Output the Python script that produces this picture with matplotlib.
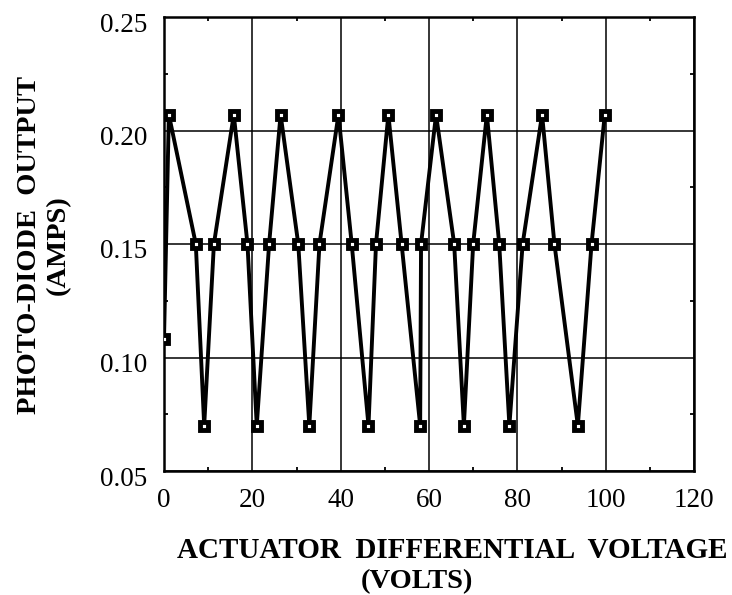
import numpy as np
import matplotlib
matplotlib.use("Agg")
import matplotlib.pyplot as plt
from matplotlib.ticker import MultipleLocator
from matplotlib.transforms import ScaledTranslation

# Values
voltage = [0.0, 1.1, 7.2, 9.1, 11.3, 15.8, 18.9, 21.0, 23.8, 26.4,
           30.4, 32.9, 35.2, 39.5, 42.5, 46.3, 48.0, 50.8, 53.8, 58.0,
           58.2, 61.6, 65.7, 67.9, 70.0, 73.1, 75.9, 78.2, 81.2, 85.6,
           88.4, 93.7, 96.8, 99.8]
output = [0.108, 0.207, 0.150, 0.070, 0.150, 0.207, 0.150, 0.070, 0.150, 0.207,
          0.150, 0.070, 0.150, 0.207, 0.150, 0.070, 0.150, 0.207, 0.150, 0.070,
          0.150, 0.207, 0.150, 0.070, 0.150, 0.207, 0.150, 0.070, 0.150, 0.207,
          0.150, 0.070, 0.150, 0.207]

x_ticks = [0, 20, 40, 60, 80, 100, 120]
y_ticks = [0.05, 0.10, 0.15, 0.20, 0.25]

serif = "Liberation Serif"

fig = plt.figure(figsize=(7.32, 5.95), dpi=100)
ax = fig.add_axes([164 / 732, 1 - 471 / 595, (694 - 164) / 732, (471 - 17) / 595])

ax.plot(voltage, output, color="black", lw=2.8, marker="s", ms=5.5,
        mfc="white", mec="black", mew=3.5, zorder=3)

ax.set_xlim(0, 120)
ax.set_ylim(0.05, 0.25)
ax.set_xticks(x_ticks)
ax.set_yticks(y_ticks)
ax.set_xticklabels([str(v) for v in x_ticks])
ax.set_yticklabels([f"{v:.2f}" for v in y_ticks])
ax.xaxis.set_minor_locator(MultipleLocator(10))
ax.yaxis.set_minor_locator(MultipleLocator(0.025))

# grid lines at major ticks, small inward minor ticks all round
ax.grid(True, which="major", color="black", lw=1.1)
ax.tick_params(which="major", length=0, pad=12, labelsize=19.5)
ax.tick_params(which="minor", direction="in", length=3, width=1.3,
               top=True, right=True)
for lab in ax.get_xticklabels() + ax.get_yticklabels():
    lab.set_fontfamily(serif)
offset = ScaledTranslation(0, -5 / 100, fig.dpi_scale_trans)
for lab in ax.get_yticklabels():
    lab.set_transform(lab.get_transform() + offset)

for sp in ax.spines.values():
    sp.set_linewidth(1.8)

fig.text(44 / 732, 1 - 245 / 595, "PHOTO-DIODE  OUTPUT\n(AMPS)",
         rotation=90, ha="center", va="center", multialignment="center",
         fontsize=20.5, fontweight="bold", family=serif)
fig.text(452 / 732, 1 - 551 / 595, "ACTUATOR  DIFFERENTIAL  VOLTAGE",
         ha="center", va="center", fontsize=21, fontweight="bold", family=serif)
fig.text(417 / 732, 1 - 582 / 595, "(VOLTS)",
         ha="center", va="center", fontsize=20.5, fontweight="bold", family=serif)

fig.savefig("out.png", dpi=100)
